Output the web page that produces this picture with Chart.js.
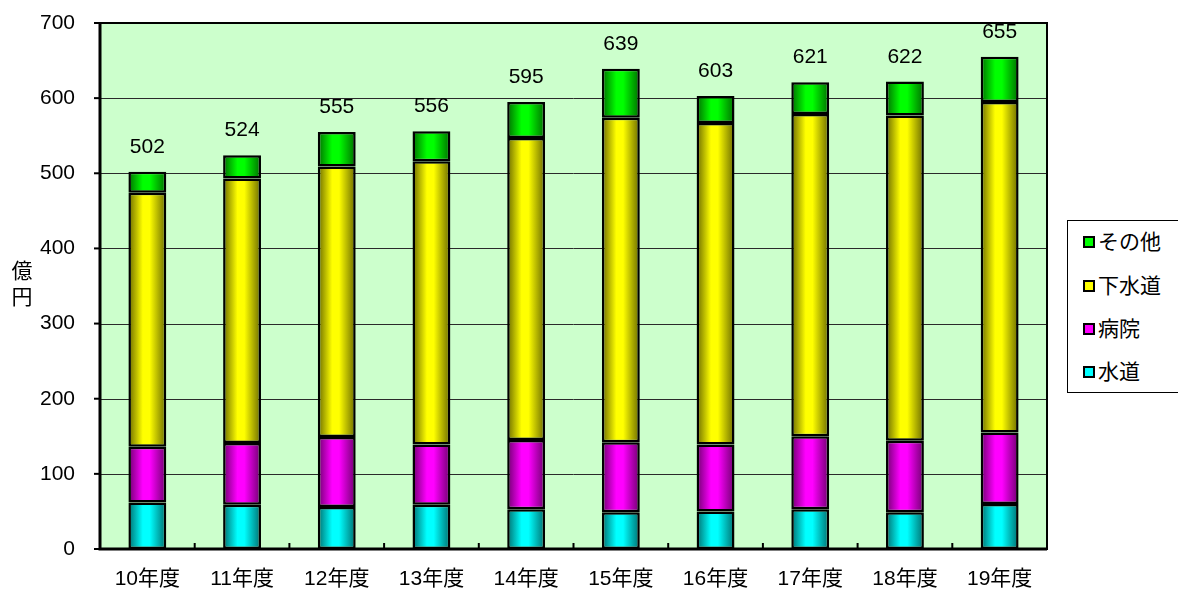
<!DOCTYPE html>
<html lang="ja">
<head>
<meta charset="utf-8">
<script src="https://cdn.jsdelivr.net/npm/chart.js@4/dist/chart.umd.min.js"></script>
<style>
  html, body { margin: 0; padding: 0; background: #fff; overflow: hidden; }
  body { width: 1178px; height: 591px; position: relative;
         font-family: "Liberation Sans", "Noto Sans CJK JP", sans-serif; }
  #wrap { position: absolute; left: 0; top: 0; width: 1178px; height: 591px; }
  #ytitle { position: absolute; left: 10px; top: 258px; width: 24px; font-size: 21px;
            line-height: 26px; text-align: center; color: #000; }
  #legend { position: absolute; left: 1067px; top: 220px; width: 130px; height: 173px;
            border: 1px solid #000; background: #fff; box-sizing: border-box; }
  .item { position: absolute; left: 15px; font-size: 21px; line-height: 26px; color: #000;
          white-space: nowrap; display: flex; align-items: center; }
  .sw { width: 8px; height: 8px; border: 2px solid #000; margin-right: 3px; }
</style>
</head>
<body>
<div id="wrap"><canvas id="chart-bond"></canvas></div>
<div id="ytitle">億<br>円</div>
<div id="legend"></div>

<script>
/* ── 데이터 (단위: 億円) ── */
const LABELS  = ['10年度','11年度','12年度','13年度','14年度','15年度','16年度','17年度','18年度','19年度'];
const SUIDO   = [62, 59, 56, 59, 53, 49, 50, 53, 49, 60];        // 水道
const BYOIN   = [74, 82, 93, 80, 92, 93, 89, 97, 95, 95];        // 病院
const GESUIDO = [338, 352, 360, 377, 402, 432, 428, 429, 433, 440]; // 下水道
const SONOTA  = [28, 31, 46, 40, 48, 65, 36, 42, 45, 60];        // その他
const TOTALS  = [502, 524, 555, 556, 595, 639, 603, 621, 622, 655];
const Y_TICKS = [0, 100, 200, 300, 400, 500, 600, 700];

const FONT = '"Liberation Sans", "Noto Sans CJK JP", sans-serif';
const FS = 21;
const BAR_PCT = 0.4;

/* ── 색상: [밝은색, 어두운 가장자리] ── */
const COL = {
  suido  : ['#00ffff', '#006e6e'],
  byoin  : ['#ff00ff', '#6e006e'],
  gesuido: ['#ffff00', '#6a6a00'],
  sonota : ['#00ff00', '#006e00'],
};

/* 가로 그라데이션 (Excel 풍 막대 음영) */
function shade(pair) {
  return (ctx) => {
    const chart = ctx.chart;
    const xs = chart.scales && chart.scales.x;
    if (!chart.chartArea || !xs) return pair[0];
    const cx = xs.getPixelForValue(ctx.dataIndex);
    const w  = (xs.width / LABELS.length) * BAR_PCT;
    const g  = chart.ctx.createLinearGradient(cx - w / 2, 0, cx + w / 2, 0);
    g.addColorStop(0,    pair[1]);
    g.addColorStop(0.38, pair[0]);
    g.addColorStop(0.56, pair[0]);
    g.addColorStop(1,    pair[1]);
    return g;
  };
}

function ds(label, data, pair) {
  return {
    label,
    data,
    backgroundColor: shade(pair),
    borderColor    : '#000',
    borderWidth    : 2.5,
    borderSkipped  : false,
    categoryPercentage: 1,
    barPercentage  : BAR_PCT,
    stack: 's',
  };
}

/* 플롯 배경 + 테두리 + 안쪽 눈금 + 합계 라벨 */
const plotDeco = {
  id: 'plotDeco',
  beforeDatasetsDraw(chart) {
    const { ctx, chartArea: a } = chart;
    ctx.save();
    ctx.fillStyle = '#ccffcc';
    ctx.fillRect(a.left, a.top, a.right - a.left, a.bottom - a.top);
    /* 가로 격자선 */
    const ys = chart.scales.y;
    ctx.strokeStyle = '#2a2a2a';
    ctx.lineWidth = 1;
    Y_TICKS.forEach(v => {
      if (v === 0 || v === 700) return;
      const y = Math.round(ys.getPixelForValue(v)) + 0.5;
      ctx.beginPath(); ctx.moveTo(a.left, y); ctx.lineTo(a.right, y); ctx.stroke();
    });
    ctx.restore();
  },
  afterDatasetsDraw(chart) {
    const { ctx, chartArea: a } = chart;
    const xs = chart.scales.x, ys = chart.scales.y;
    ctx.save();
    /* 테두리 */
    ctx.strokeStyle = '#000';
    ctx.lineWidth = 2;
    ctx.strokeRect(a.left, a.top, a.right - a.left, a.bottom - a.top);
    ctx.lineWidth = 3;
    ctx.beginPath();
    ctx.moveTo(a.left, a.top); ctx.lineTo(a.left, a.bottom); ctx.lineTo(a.right, a.bottom);
    ctx.stroke();
    /* y 눈금 (바깥) */
    ctx.lineWidth = 2;
    Y_TICKS.forEach(v => {
      const y = ys.getPixelForValue(v);
      ctx.beginPath(); ctx.moveTo(a.left - 6, y); ctx.lineTo(a.left, y); ctx.stroke();
    });
    /* x 눈금 (안쪽, 항목 사이) */
    for (let i = 1; i < LABELS.length; i++) {
      const x = (xs.getPixelForValue(i - 1) + xs.getPixelForValue(i)) / 2;
      ctx.beginPath(); ctx.moveTo(x, a.bottom); ctx.lineTo(x, a.bottom - 6); ctx.stroke();
    }
    /* 합계 라벨 */
    const top = chart.getDatasetMeta(chart.data.datasets.length - 1);
    ctx.fillStyle = '#000';
    ctx.font = FS + 'px ' + FONT;
    ctx.textAlign = 'center';
    ctx.textBaseline = 'alphabetic';
    top.data.forEach((el, i) => {
      ctx.fillText(String(TOTALS[i]), el.x, el.y - 19);
    });
    ctx.restore();
  },
};

new Chart(document.getElementById('chart-bond'), {
  type: 'bar',
  data: {
    labels: LABELS,
    datasets: [
      ds('水道',   SUIDO,   COL.suido),
      ds('病院',   BYOIN,   COL.byoin),
      ds('下水道', GESUIDO, COL.gesuido),
      ds('その他', SONOTA,  COL.sonota),
    ],
  },
  options: {
    responsive: true,
    maintainAspectRatio: false,
    animation: false,
    layout: { padding: { top: 23, right: 131, left: 0, bottom: 0 } },
    plugins: {
      legend : { display: false },
      tooltip: { enabled: false },
    },
    scales: {
      x: {
        stacked: true,
        grid  : { display: false },
        border: { display: false },
        ticks : { color: '#000', font: { size: FS, family: FONT }, padding: 10, maxRotation: 0, autoSkip: false },
        afterFit: s => { s.height = 42; },
      },
      y: {
        stacked: true,
        min: 0, max: 700,
        afterBuildTicks: s => { s.ticks = Y_TICKS.map(v => ({ value: v })); },
        grid  : { display: false, drawTicks: true, tickLength: 20 },
        border: { display: false },
        ticks : { color: '#000', font: { size: FS, family: FONT }, padding: 5 },
        afterFit: s => { s.width = 100; },
      },
    },
  },
  plugins: [plotDeco],
});

/* ── 범례 (위에서부터: その他, 下水道, 病院, 水道) ── */
const legendItems = [
  ['その他', COL.sonota[0]],
  ['下水道', COL.gesuido[0]],
  ['病院',   COL.byoin[0]],
  ['水道',   COL.suido[0]],
];
const rowTops = [8, 52, 95, 138];
const lg = document.getElementById('legend');
legendItems.forEach(([name, color], i) => {
  const d = document.createElement('div');
  d.className = 'item';
  d.style.top = rowTops[i] + 'px';
  d.innerHTML = '<span class="sw" style="background:' + color + '"></span><span>' + name + '</span>';
  lg.appendChild(d);
});
</script>
</body>
</html>
